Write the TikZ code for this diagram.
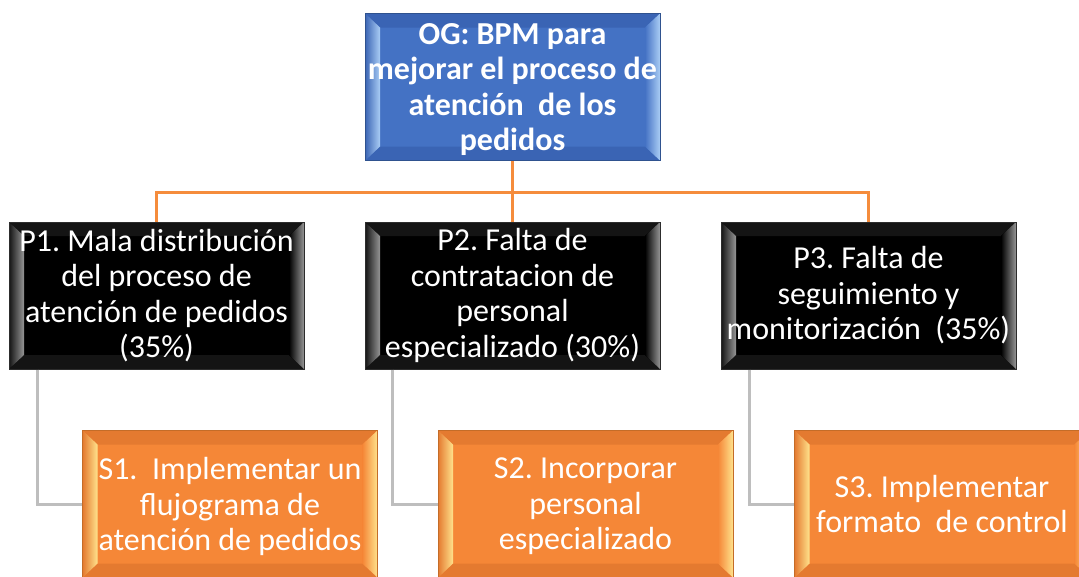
\documentclass[tikz,border=0pt]{standalone}
\usepackage{fontspec}
\setmainfont{Carlito}
\usetikzlibrary{calc}
\frenchspacing
\definecolor{ogblue}{RGB}{68,114,196}
\definecolor{ogbluelt}{RGB}{170,205,245}
\definecolor{ogbluedk}{RGB}{47,82,143}
\definecolor{ogbluemd}{RGB}{58,100,180}
\definecolor{pgray}{RGB}{150,150,150}
\definecolor{pgraydk}{RGB}{45,45,45}
\definecolor{pblk}{RGB}{20,20,20}
\definecolor{sorange}{RGB}{245,135,55}
\definecolor{soryel}{RGB}{255,226,140}
\definecolor{sorangedk}{RGB}{196,108,40}
\definecolor{sorangemd}{RGB}{228,122,48}
\definecolor{busorange}{RGB}{245,140,60}
\definecolor{conngray}{RGB}{190,190,190}
\tikzset{
  basebox/.style={minimum width=295pt, minimum height=147pt, inner sep=0pt,
    align=center, text=white, font=\fontsize{32}{35.5}\selectfont},
  bevel/.style n args={4}{fill=#1, draw=#3, line width=1pt,
    path picture={
      \fill[#4]
        (path picture bounding box.north west) -- ++(15pt,-14pt)
        -- ($(path picture bounding box.north east)+(-15pt,-14pt)$)
        -- (path picture bounding box.north east) -- cycle;
      \fill[#4]
        (path picture bounding box.south west) -- ++(15pt,14pt)
        -- ($(path picture bounding box.south east)+(-15pt,14pt)$)
        -- (path picture bounding box.south east) -- cycle;
      \fill[left color=#4, right color=#2]
        (path picture bounding box.north west) -- ++(15pt,-14pt)
        -- ($(path picture bounding box.south west)+(15pt,14pt)$)
        -- (path picture bounding box.south west) -- cycle;
      \fill[left color=#1, right color=#2]
        (path picture bounding box.north east) -- ++(-15pt,-14pt)
        -- ($(path picture bounding box.south east)+(-15pt,14pt)$)
        -- (path picture bounding box.south east) -- cycle;
    }},
  ogbox/.style={basebox, bevel={ogblue}{ogbluelt}{ogbluedk}{ogbluemd}, font=\fontsize{32}{35.5}\selectfont\bfseries},
  pbox/.style={basebox, bevel={black}{pgray}{pgraydk}{pblk}},
  sbox/.style={basebox, bevel={sorange}{soryel}{sorangedk}{sorangemd}},
  busline/.style={draw=busorange, line width=3pt},
  subline/.style={draw=conngray, line width=3pt},
}
\begin{document}
\begin{tikzpicture}[x=1pt,y=-1pt]
\useasboundingbox (0,0) rectangle (1079,576);
\clip (0,0) rectangle (1079,576);
\coordinate (bus) at (512.5,192);
\node[ogbox, text depth=0pt] (og) at (512.5,87) {OG: BPM para\\mejorar el proceso de\\atención~ de los\\pedidos};
\node[pbox] (p1) at (156.5,295.5) {P1. Mala distribución\\del proceso de\\atención de pedidos\\(35\%)};
\node[pbox] (p2) at (512.5,295.5) {P2. Falta de\\contratacion de\\personal\\especializado (30\%)};
\node[pbox] (p3) at (868.5,295.5) {P3. Falta de\\seguimiento y\\monitorización~ (35\%)};
\node[sbox, text depth=-2pt] (s1) at (230,504) {S1.~ Implementar un\\flujograma de\\atención de pedidos};
\node[sbox, text depth=0pt] (s2) at (585.5,504) {S2. Incorporar\\personal\\especializado};
\node[sbox] (s3) at (942,504) {S3. Implementar\\formato~ de control};
\draw[busline] (og.south) -- (p2.north);
\draw[busline] (p1.north) |- (bus) -| (p3.north);
\draw[subline] ([xshift=29pt]p1.south west) |- (s1.west);
\draw[subline] ([xshift=28pt]p2.south west) |- (s2.west);
\draw[subline] ([xshift=29pt]p3.south west) |- (s3.west);
\end{tikzpicture}
\end{document}
